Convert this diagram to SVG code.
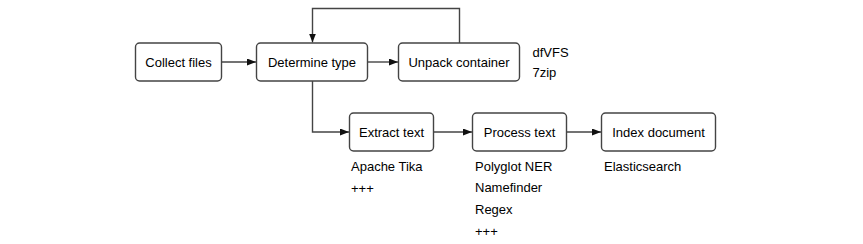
<svg xmlns="http://www.w3.org/2000/svg" width="863" height="244" viewBox="0 0 863 244">
<style>
.box{fill:#fff;stroke:#444;stroke-width:1.4}
.t{font-family:"Liberation Sans",Arial,sans-serif;font-size:13px;fill:#000}
.c{text-anchor:middle}
.ln{fill:none;stroke:#444;stroke-width:1.4}
</style>
<defs>
<marker id="ah" markerWidth="9" markerHeight="7" refX="9" refY="3.5" orient="auto" markerUnits="userSpaceOnUse">
<path d="M0,0 L9,3.5 L0,7 Z" fill="#111"/>
</marker>
</defs>
<rect width="863" height="244" fill="#fff"/>
<g id="connectors">
<path class="ln" d="M221.5,62 H256" marker-end="url(#ah)"/>
<path class="ln" d="M367.5,62 H398" marker-end="url(#ah)"/>
<path class="ln" d="M459.5,43 V8.5 H312.5 V42.5" marker-end="url(#ah)"/>
<path class="ln" d="M312.5,81 V132 H349" marker-end="url(#ah)"/>
<path class="ln" d="M433.5,132 H472" marker-end="url(#ah)"/>
<path class="ln" d="M566.5,132 H601" marker-end="url(#ah)"/>
</g>
<g id="collect"><rect class="box" x="135.5" y="43" width="86" height="38" rx="4"/><text class="t c" x="178.5" y="66.5">Collect files</text></g>
<g id="determine"><rect class="box" x="256.5" y="43" width="111" height="38" rx="4"/><text class="t c" x="312" y="66.5">Determine type</text></g>
<g id="unpack"><rect class="box" x="398.5" y="43" width="121" height="38" rx="4"/><text class="t c" x="459" y="66.5">Unpack container</text></g>
<g id="unpack-tools"><text class="t" x="532.5" y="56.5">dfVFS</text><text class="t" x="532.5" y="76.5">7zip</text></g>
<g id="extract"><rect class="box" x="349.5" y="113" width="84" height="38" rx="4"/><text class="t c" x="391.5" y="136.5">Extract text</text></g>
<g id="process"><rect class="box" x="472.5" y="113" width="94" height="38" rx="4"/><text class="t c" x="519.5" y="136.5">Process text</text></g>
<g id="index"><rect class="box" x="601.5" y="113" width="114" height="38" rx="4"/><text class="t c" x="658.5" y="136.5">Index document</text></g>
<g id="extract-tools"><text class="t" x="351" y="170.5">Apache Tika</text><text class="t" x="351" y="193">+++</text></g>
<g id="process-tools"><text class="t" x="475" y="170.5">Polyglot NER</text><text class="t" x="475" y="191.5">Namefinder</text><text class="t" x="475" y="213.5">Regex</text><text class="t" x="475" y="236">+++</text></g>
<g id="index-tools"><text class="t" x="604" y="170.5">Elasticsearch</text></g>
</svg>
